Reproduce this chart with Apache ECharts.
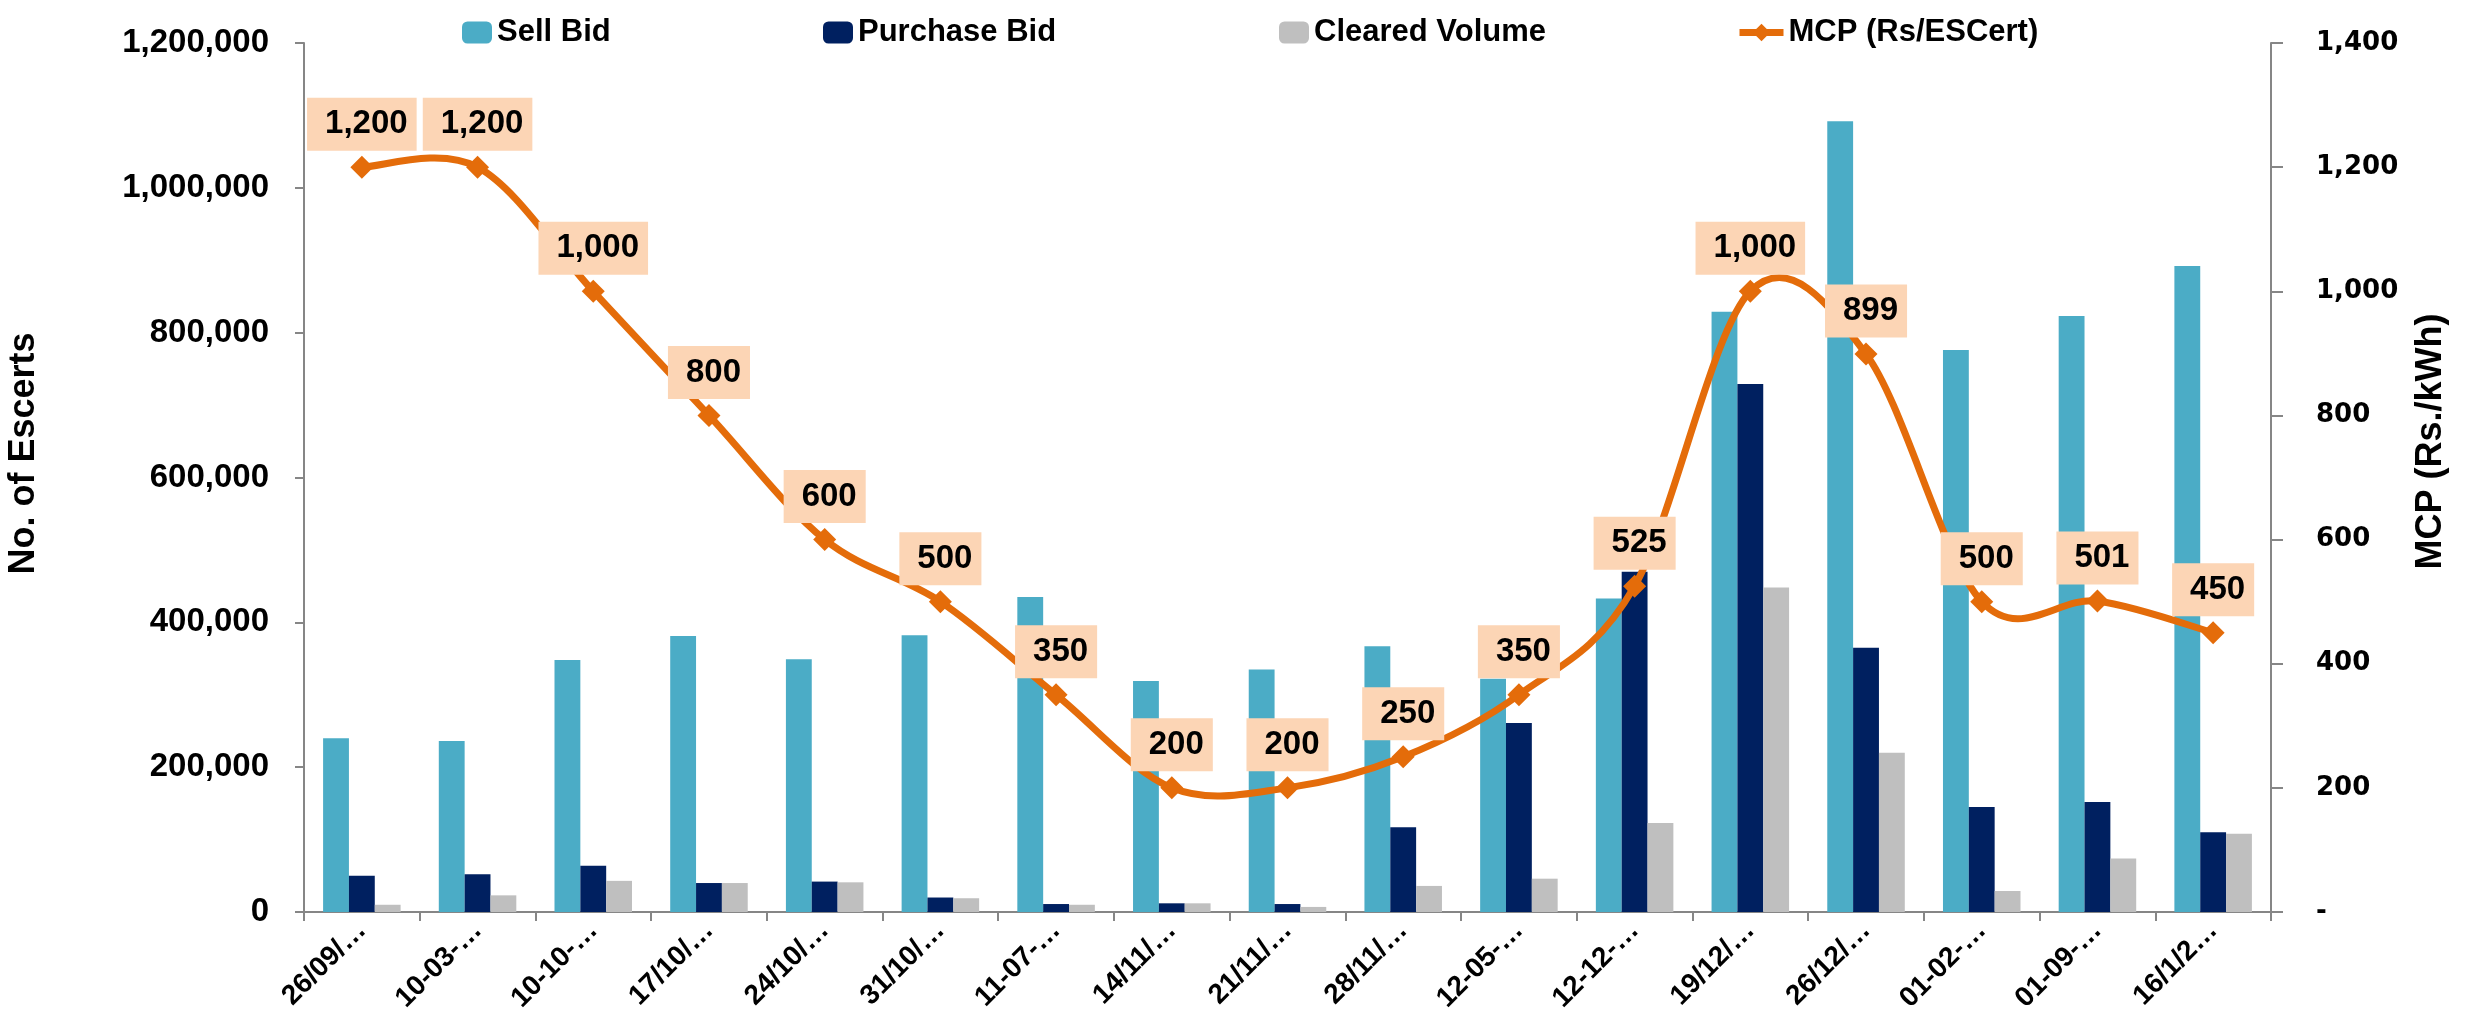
<!DOCTYPE html>
<html>
<head>
<meta charset="utf-8">
<script src="https://cdn.jsdelivr.net/npm/echarts@6/dist/echarts.min.js"></script>
<style>
  html, body { margin: 0; padding: 0; background: #fff; }
  #chart { width: 2473px; height: 1009px; }
</style>
</head>
<body>
<div id="chart"></div>
<script>
  // 日期(原图中已被截断)
  var categories = ['26/09/…', '10-03-…', '10-10-…', '17/10/…', '24/10/…', '31/10/…', '11-07-…', '14/11/…',
    '21/11/…', '28/11/…', '12-05-…', '12-12-…', '19/12/…', '26/12/…', '01-02-…', '01-09-…', '16/1/2…'];
  var sellBid = [240000, 236000, 348000, 381000, 349000, 382000, 435000, 319000,
    335000, 367000, 322000, 433000, 829000, 1092000, 776000, 823000, 892000];
  var purchaseBid = [50000, 52000, 64000, 40000, 42000, 20000, 11000, 12000,
    11000, 117000, 261000, 470000, 729000, 365000, 145000, 152000, 110000];
  var clearedVolume = [10000, 23000, 43000, 40000, 41000, 19000, 10000, 12000,
    7000, 36000, 46000, 123000, 448000, 220000, 29000, 74000, 108000];
  var mcp = [1200, 1200, 1000, 800, 600, 500, 350, 200, 200, 250, 350, 525, 1000, 899, 500, 501, 450];

  var font = '"Liberation Sans", Arial, sans-serif';
  var axisGray = '#868686';
  var orange = '#E46C0A';

  function fmt(v) {
    return Number(v).toLocaleString('en-US');
  }

  function legendItem(name, left, w) {
    return {
      data: [name],
      left: left,
      top: 12,
      itemWidth: w,
      itemHeight: 22,
      textStyle: { fontFamily: font, fontWeight: 'bold', fontSize: 31, color: '#000' }
    };
  }

  // excel 风格的平滑曲线(每段一条贝塞尔)
  function renderSmooth(params, api) {
    var i = params.dataIndex;
    var n = mcp.length;
    if (i >= n - 1) return null;
    var pt = function (k) {
      k = Math.max(0, Math.min(n - 1, k));
      return api.coord([k, mcp[k]]);
    };
    var p0 = pt(i - 1), p1 = pt(i), p2 = pt(i + 1), p3 = pt(i + 2);
    return {
      type: 'bezierCurve',
      shape: {
        x1: p1[0], y1: p1[1],
        x2: p2[0], y2: p2[1],
        cpx1: p1[0] + (p2[0] - p0[0]) / 6,
        cpy1: p1[1] + (p2[1] - p0[1]) / 6,
        cpx2: p2[0] - (p3[0] - p1[0]) / 6,
        cpy2: p2[1] - (p3[1] - p1[1]) / 6
      },
      style: { stroke: orange, lineWidth: 7, fill: null, lineCap: 'round' }
    };
  }

  var chart = echarts.init(document.getElementById('chart'));
  var mcpLegend = legendItem('MCP (Rs/ESCert)', 1731, 44);
  mcpLegend.lineStyle = { color: orange, width: 7, opacity: 1 };

  chart.setOption({
    animation: false,
    backgroundColor: '#fff',
    legend: [
      legendItem('Sell Bid', 457, 30),
      legendItem('Purchase Bid', 818, 30),
      legendItem('Cleared Volume', 1274, 30),
      mcpLegend
    ],
    grid: { left: 304, right: 202, top: 43, bottom: 97, containLabel: false, outerBoundsMode: 'none' },
    xAxis: {
      type: 'category',
      data: categories,
      axisLine: { lineStyle: { color: axisGray, width: 2 } },
      axisTick: { show: true, length: 9, lineStyle: { color: axisGray, width: 2 } },
      axisLabel: {
        interval: 0,
        rotate: 45,
        margin: 14,
        fontFamily: font,
        fontWeight: 'bold',
        fontSize: 28,
        color: '#000'
      }
    },
    yAxis: [
      {
        type: 'value',
        min: 0,
        max: 1200000,
        interval: 200000,
        name: 'No. of Escerts',
        nameLocation: 'middle',
        nameGap: 262,
        nameRotate: 90,
        nameTextStyle: { fontFamily: font, fontWeight: 'bold', fontSize: 36, color: '#000', padding: [0, 0, 0, 48] },
        axisLine: { show: true, lineStyle: { color: axisGray, width: 2 } },
        axisTick: { show: true, length: 9, lineStyle: { color: axisGray, width: 2 } },
        splitLine: { show: false },
        axisLabel: {
          margin: 35,
          fontFamily: font,
          fontWeight: 'bold',
          fontSize: 33,
          color: '#000',
          formatter: fmt
        }
      },
      {
        type: 'value',
        min: 0,
        max: 1400,
        interval: 200,
        position: 'right',
        name: 'MCP (Rs./kWh)',
        nameLocation: 'middle',
        nameGap: 142,
        nameRotate: 90,
        nameTextStyle: { fontFamily: font, fontWeight: 'bold', fontSize: 36, color: '#000', padding: [0, 0, 0, 72] },
        axisLine: { show: true, lineStyle: { color: axisGray, width: 2 } },
        axisTick: { show: true, length: 12, lineStyle: { color: axisGray, width: 2 } },
        splitLine: { show: false },
        axisLabel: {
          margin: 45,
          fontFamily: '"DejaVu Sans", Verdana, sans-serif',
          fontWeight: 'bold',
          fontSize: 26,
          color: '#000',
          formatter: function (v) { return v === 0 ? '-' : fmt(v); }
        }
      }
    ],
    series: [
      {
        name: 'Sell Bid',
        type: 'bar',
        data: sellBid,
        barGap: '0%',
        barCategoryGap: '33%',
        itemStyle: { color: '#4BACC6' }
      },
      {
        name: 'Purchase Bid',
        type: 'bar',
        data: purchaseBid,
        barGap: '0%',
        barCategoryGap: '33%',
        itemStyle: { color: '#002060' }
      },
      {
        name: 'Cleared Volume',
        type: 'bar',
        data: clearedVolume,
        barGap: '0%',
        barCategoryGap: '33%',
        itemStyle: { color: '#BFBFBF' }
      },
      {
        name: 'mcpCurve',
        type: 'custom',
        yAxisIndex: 1,
        data: mcp.map(function (v, i) { return [i, v]; }),
        encode: { x: 0, y: 1 },
        renderItem: renderSmooth,
        silent: true,
        z: 4
      },
      {
        name: 'MCP (Rs/ESCert)',
        type: 'line',
        yAxisIndex: 1,
        data: mcp,
        symbol: 'diamond',
        symbolSize: 23,
        z: 5,
        lineStyle: { color: orange, width: 7, opacity: 0 },
        itemStyle: { color: orange },
        label: {
          show: true,
          position: 'top',
          distance: 5,
          formatter: function (p) { return fmt(p.value); },
          fontFamily: font,
          fontWeight: 'bold',
          fontSize: 33,
          lineHeight: 37,
          color: '#000',
          backgroundColor: '#FCD5B5',
          padding: [8, 9, 8, 18]
        }
      }
    ]
  });
</script>
</body>
</html>
